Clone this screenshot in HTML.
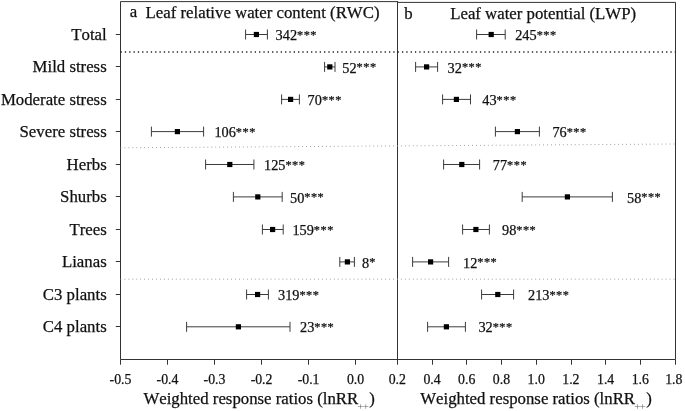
<!DOCTYPE html>
<html><head><meta charset="utf-8"><title>Forest plot</title>
<style>
html,body{margin:0;padding:0;background:#fff;}
svg{display:block;}
text{font-family:"Liberation Serif","Times New Roman",serif;fill:#111;font-kerning:none;stroke:#111;stroke-width:0.25px;}
</style></head><body>
<svg width="685" height="411" viewBox="0 0 685 411">
<rect x="0" y="0" width="685" height="411" fill="#fff"/>

<g stroke="#333" stroke-width="1" fill="none">
<path d="M120.5 359.5V1.6H397.5M397.5 2.4H675.5V359.5H120.5M397.5 1.1V359.5"/>
<line x1="115.8" y1="34.50" x2="120.5" y2="34.50"/>
<line x1="115.8" y1="66.50" x2="120.5" y2="66.50"/>
<line x1="115.8" y1="99.50" x2="120.5" y2="99.50"/>
<line x1="115.8" y1="131.50" x2="120.5" y2="131.50"/>
<line x1="115.8" y1="164.50" x2="120.5" y2="164.50"/>
<line x1="115.8" y1="196.50" x2="120.5" y2="196.50"/>
<line x1="115.8" y1="229.50" x2="120.5" y2="229.50"/>
<line x1="115.8" y1="261.50" x2="120.5" y2="261.50"/>
<line x1="115.8" y1="294.50" x2="120.5" y2="294.50"/>
<line x1="115.8" y1="326.50" x2="120.5" y2="326.50"/>
<line x1="120.50" y1="359.5" x2="120.50" y2="364.7"/>
<line x1="167.50" y1="359.5" x2="167.50" y2="364.7"/>
<line x1="214.50" y1="359.5" x2="214.50" y2="364.7"/>
<line x1="261.50" y1="359.5" x2="261.50" y2="364.7"/>
<line x1="308.50" y1="359.5" x2="308.50" y2="364.7"/>
<line x1="355.50" y1="359.5" x2="355.50" y2="364.7"/>
<line x1="397.50" y1="359.5" x2="397.50" y2="364.7"/>
<line x1="432.50" y1="359.5" x2="432.50" y2="364.7"/>
<line x1="466.50" y1="359.5" x2="466.50" y2="364.7"/>
<line x1="501.50" y1="359.5" x2="501.50" y2="364.7"/>
<line x1="536.50" y1="359.5" x2="536.50" y2="364.7"/>
<line x1="571.50" y1="359.5" x2="571.50" y2="364.7"/>
<line x1="605.50" y1="359.5" x2="605.50" y2="364.7"/>
<line x1="640.50" y1="359.5" x2="640.50" y2="364.7"/>
<line x1="675.50" y1="359.5" x2="675.50" y2="364.7"/>
</g>
<line x1="120.5" y1="52" x2="675.5" y2="52" stroke="#222" stroke-width="1.3" stroke-dasharray="1.3 3.03"/>
<line x1="120.5" y1="147.8" x2="675.5" y2="144" stroke="#999" stroke-width="1" stroke-dasharray="0.9 3.05"/>
<line x1="120.5" y1="279.2" x2="675.5" y2="279.2" stroke="#999" stroke-width="1" stroke-dasharray="0.9 3.05"/>
<g stroke="#3c3c3c" stroke-width="1" fill="none">
<path d="M245.6 29.50V39.50M267.4 29.50V39.50M245.6 34.50H267.4"/>
<path d="M324.6 61.90V71.90M335.0 61.90V71.90M324.6 66.90H335.0"/>
<path d="M281.6 94.40V104.40M299.4 94.40V104.40M281.6 99.40H299.4"/>
<path d="M151.4 126.60V136.60M203.6 126.60V136.60M151.4 131.60H203.6"/>
<path d="M205.6 159.50V169.50M253.9 159.50V169.50M205.6 164.50H253.9"/>
<path d="M233.4 191.90V201.90M282.2 191.90V201.90M233.4 196.90H282.2"/>
<path d="M262.4 224.50V234.50M283.2 224.50V234.50M262.4 229.50H283.2"/>
<path d="M339.8 256.90V266.90M354.4 256.90V266.90M339.8 261.90H354.4"/>
<path d="M246.6 289.50V299.50M268.4 289.50V299.50M246.6 294.50H268.4"/>
<path d="M186.6 321.80V331.80M290.0 321.80V331.80M186.6 326.80H290.0"/>
<path d="M476.6 29.50V39.50M505.2 29.50V39.50M476.6 34.50H505.2"/>
<path d="M415.6 61.90V71.90M437.6 61.90V71.90M415.6 66.90H437.6"/>
<path d="M442.6 94.40V104.40M470.5 94.40V104.40M442.6 99.40H470.5"/>
<path d="M495.4 126.60V136.60M539.4 126.60V136.60M495.4 131.60H539.4"/>
<path d="M443.6 159.50V169.50M479.6 159.50V169.50M443.6 164.50H479.6"/>
<path d="M522.2 191.90V201.90M612.4 191.90V201.90M522.2 196.90H612.4"/>
<path d="M462.6 224.50V234.50M489.4 224.50V234.50M462.6 229.50H489.4"/>
<path d="M412.6 256.90V266.90M448.6 256.90V266.90M412.6 261.90H448.6"/>
<path d="M481.6 289.50V299.50M513.6 289.50V299.50M481.6 294.50H513.6"/>
<path d="M427.6 321.80V331.80M465.4 321.80V331.80M427.6 326.80H465.4"/>
</g>
<g fill="#000">
<rect x="253.80" y="31.90" width="5.2" height="5.2"/>
<rect x="327.20" y="64.30" width="5.2" height="5.2"/>
<rect x="288.00" y="96.80" width="5.2" height="5.2"/>
<rect x="174.80" y="129.00" width="5.2" height="5.2"/>
<rect x="227.20" y="161.90" width="5.2" height="5.2"/>
<rect x="255.20" y="194.30" width="5.2" height="5.2"/>
<rect x="270.00" y="226.90" width="5.2" height="5.2"/>
<rect x="344.80" y="259.30" width="5.2" height="5.2"/>
<rect x="255.00" y="291.90" width="5.2" height="5.2"/>
<rect x="235.80" y="324.20" width="5.2" height="5.2"/>
<rect x="488.60" y="31.90" width="5.2" height="5.2"/>
<rect x="424.00" y="64.30" width="5.2" height="5.2"/>
<rect x="453.80" y="96.80" width="5.2" height="5.2"/>
<rect x="514.80" y="129.00" width="5.2" height="5.2"/>
<rect x="459.20" y="161.90" width="5.2" height="5.2"/>
<rect x="564.80" y="194.30" width="5.2" height="5.2"/>
<rect x="473.30" y="226.90" width="5.2" height="5.2"/>
<rect x="428.00" y="259.30" width="5.2" height="5.2"/>
<rect x="495.20" y="291.90" width="5.2" height="5.2"/>
<rect x="443.80" y="324.20" width="5.2" height="5.2"/>
</g>
<g font-size="16.8">
<text x="106.7" y="40.00" text-anchor="end">Total</text>
<text x="106.7" y="72.40" text-anchor="end">Mild stress</text>
<text x="106.7" y="104.90" text-anchor="end">Moderate stress</text>
<text x="106.7" y="137.10" text-anchor="end">Severe stress</text>
<text x="106.7" y="170.00" text-anchor="end">Herbs</text>
<text x="106.7" y="202.40" text-anchor="end">Shurbs</text>
<text x="106.7" y="235.00" text-anchor="end">Trees</text>
<text x="106.7" y="267.40" text-anchor="end">Lianas</text>
<text x="106.7" y="300.00" text-anchor="end">C3 plants</text>
<text x="106.7" y="332.30" text-anchor="end">C4 plants</text>
</g>
<g font-size="14.3">
<text x="275.6" y="40.10">342<tspan font-size="12.3" dy="-1.2" letter-spacing="0.5">***</tspan></text>
<text x="342.3" y="72.50">52<tspan font-size="12.3" dy="-1.2" letter-spacing="0.5">***</tspan></text>
<text x="307.6" y="105.00">70<tspan font-size="12.3" dy="-1.2" letter-spacing="0.5">***</tspan></text>
<text x="214.4" y="137.20">106<tspan font-size="12.3" dy="-1.2" letter-spacing="0.5">***</tspan></text>
<text x="264.0" y="170.10">125<tspan font-size="12.3" dy="-1.2" letter-spacing="0.5">***</tspan></text>
<text x="290.0" y="202.50">50<tspan font-size="12.3" dy="-1.2" letter-spacing="0.5">***</tspan></text>
<text x="292.4" y="235.10">159<tspan font-size="12.3" dy="-1.2" letter-spacing="0.5">***</tspan></text>
<text x="362.0" y="267.50">8<tspan font-size="12.3" dy="-1.2" letter-spacing="0.5">*</tspan></text>
<text x="278.0" y="300.10">319<tspan font-size="12.3" dy="-1.2" letter-spacing="0.5">***</tspan></text>
<text x="300.0" y="332.40">23<tspan font-size="12.3" dy="-1.2" letter-spacing="0.5">***</tspan></text>
<text x="515.2" y="40.10">245<tspan font-size="12.3" dy="-1.2" letter-spacing="0.5">***</tspan></text>
<text x="447.6" y="72.50">32<tspan font-size="12.3" dy="-1.2" letter-spacing="0.5">***</tspan></text>
<text x="482.3" y="105.00">43<tspan font-size="12.3" dy="-1.2" letter-spacing="0.5">***</tspan></text>
<text x="552.4" y="137.20">76<tspan font-size="12.3" dy="-1.2" letter-spacing="0.5">***</tspan></text>
<text x="492.8" y="170.10">77<tspan font-size="12.3" dy="-1.2" letter-spacing="0.5">***</tspan></text>
<text x="627.0" y="202.50">58<tspan font-size="12.3" dy="-1.2" letter-spacing="0.5">***</tspan></text>
<text x="502.0" y="235.10">98<tspan font-size="12.3" dy="-1.2" letter-spacing="0.5">***</tspan></text>
<text x="463.0" y="267.50">12<tspan font-size="12.3" dy="-1.2" letter-spacing="0.5">***</tspan></text>
<text x="528.0" y="300.10">213<tspan font-size="12.3" dy="-1.2" letter-spacing="0.5">***</tspan></text>
<text x="478.4" y="332.40">32<tspan font-size="12.3" dy="-1.2" letter-spacing="0.5">***</tspan></text>
</g>
<g font-size="16.8">
<text x="129.8" y="16.5">a</text><text x="145.6" y="18">Leaf relative water content (RWC)</text>
<text x="404.3" y="19.4">b</text><text x="450.2" y="19.1">Leaf water potential (LWP)</text>
</g>
<g font-size="13.8" text-anchor="middle">
<text x="120.50" y="384">-0.5</text>
<text x="167.52" y="384">-0.4</text>
<text x="214.54" y="384">-0.3</text>
<text x="261.56" y="384">-0.2</text>
<text x="308.58" y="384">-0.1</text>
<text x="355.60" y="384">0.0</text>
<text x="397.30" y="384">0.2</text>
<text x="432.02" y="384">0.4</text>
<text x="466.74" y="384">0.6</text>
<text x="501.46" y="384">0.8</text>
<text x="536.18" y="384">1.0</text>
<text x="570.90" y="384">1.2</text>
<text x="605.62" y="384">1.4</text>
<text x="640.34" y="384">1.6</text>
<text x="673.76" y="384">1.8</text>
</g>
<g font-size="16.8">
<text x="143.4" y="404.2">Weighted response ratios (lnRR<tspan font-size="11" dy="5.4" dx="-0.9" letter-spacing="-0.9" fill="#666" stroke="none">++</tspan><tspan dy="-5.4" dx="1.4">)</tspan></text>
<text x="420.2" y="404.2">Weighted response ratios (lnRR<tspan font-size="11" dy="5.4" dx="-0.9" letter-spacing="-0.9" fill="#666" stroke="none">++</tspan><tspan dy="-5.4" dx="1.4">)</tspan></text>
</g>
</svg></body></html>
